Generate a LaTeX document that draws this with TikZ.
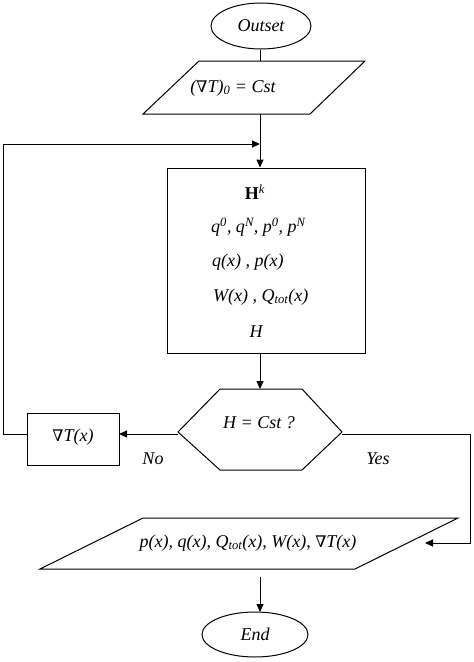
\documentclass[tikz,border=0pt]{standalone}
\usepackage{fontspec}
\setmainfont{Liberation Serif}
\newfontfamily\dvs{DejaVu Serif}
\usetikzlibrary{shapes.geometric,arrows.meta}
\newcommand{\nab}{{\dvs\upshape\fontsize{16}{18}\selectfont ∇}}
\tikzset{
  txt/.style={font=\fontsize{18}{21}\selectfont\itshape, inner sep=0pt},
  line/.style={line width=1pt},
  arr/.style={line width=1pt, -{Triangle[length=8pt,width=7pt]}},
  term/.style={ellipse, draw, line width=1pt, font=\fontsize{18}{21}\selectfont\itshape, inner sep=0pt},
  boxs/.style={rectangle, draw, line width=1pt, inner sep=0pt}
}
\begin{document}
\begin{tikzpicture}[x=1pt,y=-1pt]
\useasboundingbox (0,0) rectangle (474,662);
% start
\node[term, minimum width=100pt, minimum height=46pt] (start) at (261,26) {Outset};
% input parallelogram
\draw[line] (199,61) -- (365,61) -- (310,114) -- (143,114) -- cycle;
\coordinate (inTop) at (260,61);
\coordinate (inBot) at (260,114);
\node[txt] (in) at (233,88) {(\nab T)\textsubscript{0} = Cst};
% main box
\node[boxs, minimum width=198pt, minimum height=185pt] (calc) at (266,260.5) {};
\node[txt, font=\fontsize{18}{21}\selectfont] (hk) at (255,192) {\textbf{H}\textsuperscript{\textit{k}}};
\node[txt, anchor=west] (l1) at (211,227) {q\textsuperscript{0}, q\textsuperscript{N}, p\textsuperscript{0}, p\textsuperscript{N}};
\node[txt, anchor=west] (l2) at (212,262) {q(x) , p(x)};
\node[txt, anchor=west] (l3) at (213,297) {W(x) , Q\textsubscript{tot}(x)};
\node[txt] (l4) at (256,332) {H};
% decision hexagon
\draw[line] (178,432) -- (220,389) -- (302,389) -- (342,432) -- (302,470) -- (220,470) -- cycle;
\coordinate (decTop) at (260,389);
\coordinate (decL) at (178,434);
\coordinate (decR) at (342,434);
\node[txt] (dec) at (259,423) {H = Cst ?};
% gradient box
\node[boxs, minimum width=92pt, minimum height=52pt] (grad) at (73,439) {};
\node[txt] (gradt) at (73,437) {\nab T(x)};
\coordinate (gradR) at (119,434);
\coordinate (gradL) at (27,434);
\coordinate (loopA) at (3,434);
\coordinate (loopB) at (3,144);
\coordinate (loopC) at (260,144);
% output parallelogram
\draw[line] (143,518) -- (458,518) -- (355,569) -- (40,569) -- cycle;
\node[txt] (out) at (248,543) {p(x), q(x), Q\textsubscript{tot}(x), W(x), \nab T(x)};
\coordinate (outR) at (425,543);
\coordinate (yesA) at (470,434);
\coordinate (yesB) at (470,543);
\coordinate (outBot) at (260,577);
% end
\node[term, minimum width=106pt, minimum height=45pt] (end) at (255,634.5) {End};
\coordinate (endTop) at (260,612);
% labels
\node[txt] (no) at (153,459) {No};
\node[txt] (yes) at (378,459) {Yes};
% connectors
\draw[line] (start.south -| inTop) -- (inTop);
\draw[arr] (inBot) -- (calc.north -| inBot);
\draw[arr] (gradL) -- (loopA) -- (loopB) -- (loopC);
\draw[arr] (calc.south -| decTop) -- (decTop);
\draw[arr] (decL) -- (gradR);
\draw[arr] (decR) -- (yesA) -- (yesB) -- (outR);
\draw[arr] (outBot) -- (endTop);
\end{tikzpicture}
\end{document}
